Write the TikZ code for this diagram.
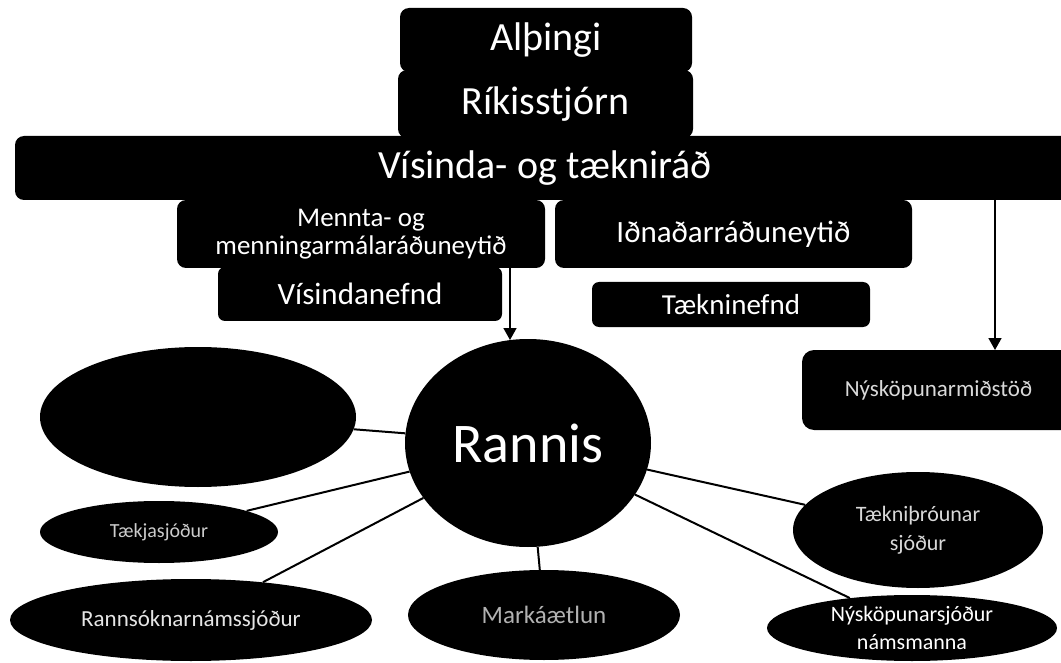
\documentclass[tikz,border=0pt]{standalone}
\usepackage{fontspec}
\setmainfont{Carlito}
\usetikzlibrary{shapes.geometric,arrows.meta}
\tikzset{
  box/.style={fill=black, rounded corners=9pt, text=white, inner sep=0pt, align=center},
  oval/.style={ellipse, fill=black, text=white, inner sep=0pt, align=center},
  link/.style={line width=2pt, black},
  arr/.style={line width=1.6pt, black, -{Triangle[length=12pt,width=13pt]}},
}
\begin{document}
\begin{tikzpicture}[x=1pt,y=-1pt]
\useasboundingbox (0,0) rectangle (1061,663);
% top boxes
\node[box, minimum width=292pt, minimum height=64pt, font=\fontsize{40}{42}\selectfont] (alth) at (546,40) {Alþingi};
\node[box, minimum width=295pt, minimum height=68pt, font=\fontsize{40}{42}\selectfont] (rik) at (545.5,104) {Ríkisstjórn};
\node[box, minimum width=1060pt, minimum height=64pt, font=\fontsize{40}{42}\selectfont] (vt) at (545,168) {Vísinda- og tækniráð};
\node[box, minimum width=368pt, minimum height=68pt, font=\fontsize{27}{28}\selectfont] (mrn) at (361,234) {Mennta- og\\menningarmálaráðuneytið};
\node[box, minimum width=357pt, minimum height=68pt, font=\fontsize{31}{33}\selectfont] (irn) at (733.5,234) {Iðnaðarráðuneytið};
\node[box, rounded corners=7pt, minimum width=284pt, minimum height=54pt, font=\fontsize{31}{33}\selectfont] (vn) at (360,294) {Vísindanefnd};
\node[box, rounded corners=7pt, minimum width=278pt, minimum height=45pt, font=\fontsize{29}{31}\selectfont] (tn) at (731,304.5) {Tækninefnd};
\node[box, rounded corners=12pt, minimum width=273pt, minimum height=80pt, font=\fontsize{23}{25}\selectfont, text=white!85!black] (nmst) at (938.5,390) {Nýsköpunarmiðstöð};
% ellipses
\node[oval, minimum width=246pt, minimum height=208pt, font=\fontsize{56}{58}\selectfont] (rannis) at (528,443) {Rannis};
\node[oval, minimum width=316pt, minimum height=140pt] (blank) at (198,417) {};
\node[oval, minimum width=238pt, minimum height=62pt, font=\fontsize{20}{22}\selectfont, text=white!80!black] (tsj) at (159,532) {Tækjasjóður};
\node[oval, minimum width=362pt, minimum height=82pt, font=\fontsize{23}{25}\selectfont, text=white!90!black] (rns) at (191,620) {Rannsóknarnámssjóður};
\node[oval, minimum width=272pt, minimum height=90pt, font=\fontsize{25}{27}\selectfont, text=white!70!black] (mae) at (544,615) {Markáætlun};
\node[oval, minimum width=250pt, minimum height=116pt, font=\fontsize{22}{29}\selectfont, text=white!85!black] (tth) at (918,530) {Tækniþróunar\\sjóður};
\node[oval, minimum width=290pt, minimum height=66pt, font=\fontsize{22}{28}\selectfont] (nsn) at (912,628) {Nýsköpunarsjóður\\námsmanna};
% connectors
\coordinate (a1) at (510,340);
\coordinate (a2) at (995,350);
\draw[arr] (mrn.south -| a1) -- (a1);
\draw[arr] (vt.south -| a2) -- (a2);
\foreach \n in {blank,tsj,rns,mae,tth,nsn}{
  \draw[link] (rannis) -- (\n);
}
\end{tikzpicture}
\end{document}
